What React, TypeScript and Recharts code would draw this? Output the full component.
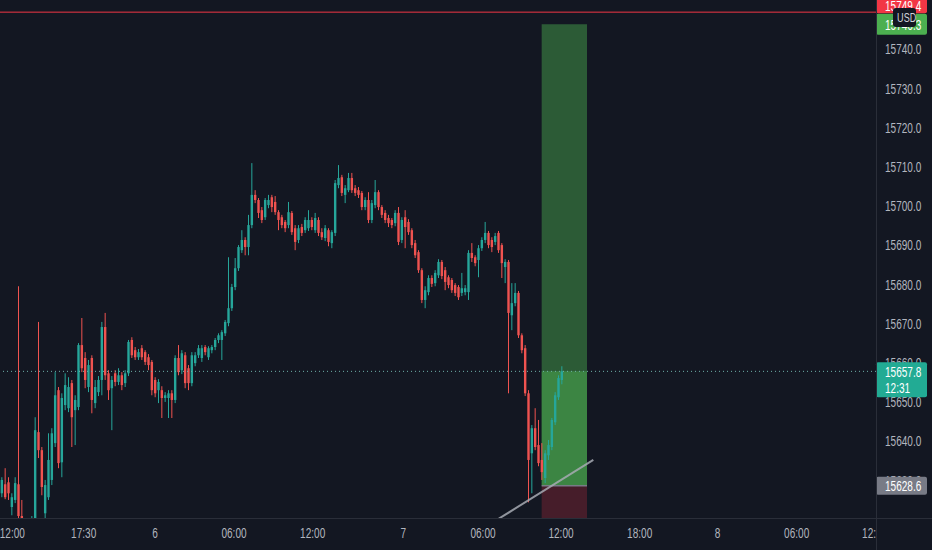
import React from 'react';
import { ComposedChart, Bar, XAxis, YAxis, ReferenceLine, ReferenceArea } from 'recharts';

const W = 932;
const H = 550;
const AXIS_W = 56;
const AXIS_H = 32;
const PLOT_W = W - AXIS_W;

const BG = '#131722';
const UP = '#26a69a';
const DOWN = '#ef5350';
const TEXT = '#b2b5be';
const BORDER = '#2a2e39';
const FONT = '"Liberation Sans", Arial, sans-serif';

// 15 minute bars, oldest first
const opens = [
  15626.7, 15629.0, 15629.5, 15623.2, 15625.0, 15629.0, 15620.9, 15617.8, 15616.0, 15617.3,
  15618.6, 15642.3, 15637.7, 15621.6, 15625.7, 15630.1, 15639.5, 15653.0, 15634.6, 15649.2,
  15648.4, 15654.8, 15647.9, 15648.7, 15664.5, 15661.2, 15653.8, 15661.2, 15649.7, 15652.5,
  15655.6, 15669.1, 15657.3, 15653.5, 15657.3, 15655.1, 15656.8, 15654.8, 15657.3, 15665.8,
  15663.2, 15661.4, 15663.7, 15662.7, 15661.4, 15660.2, 15655.6, 15653.0, 15653.0, 15651.0,
  15651.0, 15652.2, 15650.5, 15661.2, 15658.1, 15661.9, 15658.6, 15654.8, 15659.9, 15661.9,
  15661.2, 15664.0, 15661.4, 15663.2, 15664.0, 15665.8, 15665.8, 15667.5, 15670.1, 15673.9,
  15679.3, 15684.1, 15688.7, 15691.3, 15689.5, 15695.1, 15702.8, 15701.5, 15698.9, 15697.1,
  15700.2, 15702.2, 15701.0, 15698.4, 15697.1, 15695.9, 15695.1, 15698.2, 15694.3, 15691.3,
  15694.6, 15693.8, 15694.3, 15696.4, 15693.8, 15696.4, 15693.3, 15691.8, 15693.8, 15690.5,
  15693.1, 15705.3, 15707.3, 15702.8, 15704.0, 15707.1, 15704.5, 15704.0, 15703.3, 15699.7,
  15701.5, 15696.4, 15700.2, 15703.5, 15699.7, 15698.2, 15696.9, 15696.4, 15695.6, 15698.2,
  15691.3, 15697.1, 15695.9, 15693.8, 15690.5, 15688.2, 15683.6, 15676.0, 15678.0, 15681.6,
  15680.3, 15682.3, 15685.7, 15683.6, 15681.8, 15681.1, 15679.8, 15679.3, 15677.8, 15678.0,
  15678.0, 15688.0, 15686.9, 15686.2, 15689.2, 15691.3, 15693.1, 15691.3, 15690.8, 15693.1,
  15690.0, 15684.4, 15685.7, 15672.1, 15675.2, 15677.8, 15667.0, 15663.7, 15652.2, 15636.9,
  15643.3, 15639.0, 15635.2, 15630.6, 15636.4, 15638.5, 15644.8, 15651.2, 15655.6,
];

const highs = [
  15630.8, 15633.1, 15630.8, 15626.7, 15630.8, 15679.5, 15625.0, 15619.8, 15619.3, 15620.9,
  15646.1, 15670.4, 15638.5, 15630.1, 15642.0, 15643.3, 15657.6, 15653.8, 15652.2, 15657.3,
  15656.3, 15655.6, 15651.7, 15665.0, 15671.4, 15662.7, 15660.7, 15661.9, 15655.6, 15656.6,
  15670.4, 15672.7, 15658.1, 15656.6, 15658.1, 15658.6, 15657.6, 15658.1, 15665.8, 15666.5,
  15664.0, 15663.5, 15664.5, 15663.2, 15662.2, 15660.7, 15656.3, 15655.8, 15654.0, 15652.5,
  15653.0, 15653.0, 15661.9, 15664.5, 15663.2, 15662.7, 15659.4, 15662.7, 15662.7, 15664.5,
  15664.5, 15664.5, 15664.2, 15664.5, 15666.3, 15667.5, 15668.3, 15670.9, 15686.9, 15680.1,
  15686.7, 15690.0, 15693.8, 15692.0, 15697.7, 15710.9, 15704.0, 15702.0, 15699.7, 15702.0,
  15702.8, 15702.8, 15702.5, 15698.9, 15697.7, 15696.4, 15701.0, 15698.7, 15695.1, 15695.1,
  15695.4, 15697.1, 15698.9, 15697.1, 15698.2, 15697.1, 15694.3, 15695.1, 15694.3, 15693.8,
  15706.6, 15710.4, 15707.9, 15705.3, 15708.4, 15708.4, 15705.3, 15704.8, 15703.8, 15702.2,
  15703.5, 15701.5, 15706.6, 15704.0, 15700.2, 15698.9, 15697.7, 15696.9, 15698.9, 15699.7,
  15697.1, 15698.9, 15696.6, 15694.3, 15691.3, 15688.7, 15684.1, 15679.5, 15682.3, 15682.3,
  15683.6, 15686.4, 15686.2, 15684.4, 15682.3, 15681.6, 15680.3, 15679.8, 15682.9, 15679.8,
  15688.7, 15690.5, 15687.4, 15690.0, 15692.0, 15695.9, 15693.6, 15692.0, 15693.1, 15693.6,
  15690.5, 15686.4, 15686.2, 15680.3, 15680.3, 15678.3, 15667.5, 15664.5, 15653.0, 15644.1,
  15648.4, 15645.4, 15639.5, 15637.7, 15640.3, 15645.9, 15652.5, 15656.8, 15659.1,
];

const lows = [
  15625.7, 15625.2, 15625.0, 15621.1, 15624.2, 15619.3, 15616.0, 15613.5, 15613.5, 15616.0,
  15617.8, 15635.7, 15626.2, 15620.4, 15625.0, 15628.8, 15638.5, 15633.1, 15630.8, 15647.9,
  15647.4, 15638.5, 15639.0, 15647.9, 15657.6, 15653.5, 15652.5, 15647.1, 15648.4, 15651.5,
  15651.7, 15655.6, 15650.5, 15642.8, 15654.0, 15654.3, 15653.0, 15653.8, 15656.6, 15661.2,
  15660.7, 15660.7, 15660.7, 15659.4, 15658.1, 15651.7, 15651.2, 15649.7, 15645.9, 15650.0,
  15645.9, 15645.9, 15649.7, 15656.8, 15657.1, 15653.5, 15653.0, 15654.0, 15659.1, 15661.2,
  15660.2, 15661.9, 15660.7, 15662.4, 15663.2, 15665.0, 15660.7, 15666.8, 15669.3, 15673.2,
  15678.5, 15683.4, 15688.0, 15687.4, 15687.4, 15694.3, 15700.7, 15696.9, 15695.6, 15696.4,
  15699.4, 15698.4, 15697.7, 15693.8, 15694.3, 15693.3, 15694.3, 15692.6, 15688.7, 15690.5,
  15692.3, 15693.1, 15693.6, 15693.8, 15693.1, 15692.3, 15691.3, 15691.0, 15689.7, 15689.2,
  15692.3, 15704.5, 15702.5, 15700.7, 15703.5, 15703.3, 15702.5, 15702.0, 15698.9, 15698.9,
  15695.6, 15695.6, 15699.4, 15698.9, 15696.9, 15695.6, 15694.6, 15694.3, 15694.8, 15690.0,
  15690.5, 15689.2, 15692.6, 15689.2, 15686.7, 15682.9, 15675.2, 15673.9, 15677.2, 15679.3,
  15679.5, 15681.6, 15681.3, 15678.5, 15679.0, 15677.8, 15677.0, 15676.0, 15677.0, 15677.2,
  15676.0, 15685.7, 15684.6, 15681.8, 15688.5, 15690.5, 15689.2, 15688.2, 15690.0, 15688.0,
  15681.6, 15680.3, 15652.2, 15668.3, 15674.4, 15666.3, 15662.4, 15651.5, 15624.4, 15626.7,
  15637.7, 15633.6, 15630.1, 15629.3, 15635.2, 15637.7, 15644.1, 15650.5, 15654.5,
];

const closes = [
  15630.1, 15625.7, 15626.7, 15625.7, 15629.3, 15620.9, 15617.8, 15616.0, 15618.3, 15619.3,
  15642.8, 15637.7, 15628.3, 15628.8, 15635.2, 15642.0, 15651.7, 15634.4, 15651.0, 15654.3,
  15653.8, 15646.1, 15650.5, 15664.5, 15658.6, 15655.6, 15659.4, 15650.5, 15653.8, 15655.6,
  15669.1, 15656.8, 15653.0, 15655.6, 15655.1, 15656.8, 15654.3, 15657.3, 15665.3, 15661.9,
  15661.4, 15662.7, 15661.4, 15660.2, 15659.4, 15653.0, 15652.2, 15655.1, 15651.0, 15651.7,
  15652.2, 15650.5, 15661.2, 15657.6, 15662.4, 15654.8, 15654.8, 15661.9, 15661.9, 15663.7,
  15663.7, 15662.7, 15663.7, 15664.0, 15665.8, 15667.0, 15667.8, 15670.4, 15673.9, 15679.3,
  15684.1, 15689.5, 15691.3, 15689.5, 15695.1, 15702.8, 15701.5, 15698.2, 15696.4, 15701.5,
  15701.5, 15699.7, 15698.4, 15696.4, 15695.1, 15694.3, 15698.4, 15693.3, 15690.8, 15694.3,
  15693.1, 15696.4, 15696.4, 15694.6, 15696.9, 15693.1, 15692.0, 15694.3, 15690.8, 15693.3,
  15705.8, 15707.1, 15703.3, 15704.5, 15707.1, 15704.0, 15703.3, 15702.8, 15699.7, 15701.5,
  15696.4, 15700.7, 15703.5, 15699.7, 15697.7, 15696.4, 15695.6, 15695.1, 15698.2, 15690.8,
  15696.4, 15694.6, 15693.3, 15690.0, 15687.4, 15683.6, 15676.0, 15678.5, 15681.6, 15680.1,
  15682.9, 15685.7, 15682.1, 15680.6, 15679.8, 15678.5, 15677.8, 15676.7, 15679.0, 15679.0,
  15688.0, 15686.7, 15685.4, 15689.2, 15691.3, 15693.1, 15690.0, 15689.5, 15692.3, 15688.7,
  15685.4, 15685.7, 15672.7, 15675.2, 15677.8, 15667.0, 15663.2, 15652.2, 15635.2, 15643.3,
  15638.5, 15634.4, 15632.1, 15636.9, 15639.0, 15645.4, 15651.7, 15656.1, 15657.8,
];

// time scale: bar index of each date / time label
const timeTicks = [3.1, 24.5, 45.9, 69.6, 93.2, 120.4, 144.3, 167.7, 191.3, 214.7, 238.4, 261.8];
const timeLabels = ['12:00', '17:30', '6', '06:00', '12:00', '7', '06:00', '12:00', '18:00', '8', '06:00', '12:00'];
const priceTicks = [15630, 15640, 15650, 15660, 15670, 15680, 15690, 15700, 15710, 15720, 15730, 15740];

const lastPrice = 15657.8;
const countdown = '12:31';
const alertPrice = 15749.4;

// long position drawing
const entryPrice = 15628.6;
const targetPrice = 15746.3;
const stopPrice = 15612.0;
const toolStart = 161.9;
const toolEnd = 175.5;

// trend line drawing
const trendStart = { x: 146.9, y: 15619.1 };
const trendEnd = { x: 177.4, y: 15635.2 };

const xDomain = [-0.6, 262.2];
const yDomain = [15620.4, 15752.5];

const candles = opens.map((open, i) => ({
  idx: i,
  open,
  high: highs[i],
  low: lows[i],
  close: closes[i],
  range: [lows[i], highs[i]],
}));

const fmt = (v: number) => v.toFixed(1);

const Candle = (props: any) => {
  const { x, y, width, height, payload } = props;
  if (!payload) return null;
  const { open, close, high, low } = payload;
  const top = Math.min(y, y + height);
  const span = Math.abs(height);
  const k = high === low ? 0 : span / (high - low);
  const yOpen = top + (high - open) * k;
  const yClose = top + (high - close) * k;
  const color = close >= open ? UP : DOWN;
  const cx = x + width / 2;
  const bodyW = 2.4;
  return (
    <g>
      <line x1={cx} x2={cx} y1={top} y2={top + span} stroke={color} strokeWidth={1} />
      <rect
        x={cx - bodyW / 2}
        y={Math.min(yOpen, yClose)}
        width={bodyW}
        height={Math.max(Math.abs(yOpen - yClose), 1)}
        fill={color}
      />
    </g>
  );
};

// narrow text, like the squeezed screenshot
const Narrow = ({ x, y, children, fill = TEXT, anchor = 'start' }: any) => (
  <text
    transform={`translate(${x},${y}) scale(0.67,1)`}
    fontSize={15}
    fontFamily={FONT}
    fill={fill}
    textAnchor={anchor}
  >
    {children}
  </text>
);

const TimeTick = (props: any) => {
  const { x, y, payload, index } = props;
  const label = timeLabels[timeTicks.indexOf(payload.value)];
  const id = `tclip${index}`;
  return (
    <g>
      <defs>
        <clipPath id={id}>
          <rect x={0} y={0} width={PLOT_W} height={H} />
        </clipPath>
      </defs>
      <g clipPath={`url(#${id})`}>
        <Narrow x={x} y={y + 12} anchor="middle">
          {label}
        </Narrow>
      </g>
    </g>
  );
};

const AxisPrice = (props: any) => {
  const { viewBox, value } = props;
  if (!viewBox) return null;
  return (
    <Narrow x={PLOT_W + 9} y={viewBox.y + 5.3}>
      {fmt(value)}
    </Narrow>
  );
};

const PriceTag = (props: any) => {
  const { viewBox, lines, bg, fg = '#ffffff', dy = 0, above = 10, below = 10 } = props;
  if (!viewBox) return null;
  const cy = viewBox.y + dy;
  return (
    <g>
      <rect x={PLOT_W} y={cy - above} width={51} height={above + below} rx={2} fill={bg} />
      {lines.map((t: string, k: number) => (
        <Narrow key={k} x={PLOT_W + 9} y={cy + 5.3 + k * 16} fill={fg}>
          {t}
        </Narrow>
      ))}
    </g>
  );
};

const App = () => {
  return (
    <div style={{ position: 'absolute', left: 0, top: 0, width: W, height: H, background: BG, overflow: 'hidden' }}>
      <ComposedChart width={W} height={H} data={candles} margin={{ top: 0, right: 0, bottom: 0, left: 0 }}>
        <XAxis
          type="number"
          dataKey="idx"
          domain={xDomain}
          allowDataOverflow
          ticks={timeTicks}
          interval={0}
          height={AXIS_H}
          axisLine={false}
          tickLine={false}
          tick={(p: any) => <TimeTick {...p} />}
        />
        <YAxis
          orientation="right"
          width={AXIS_W}
          domain={yDomain}
          allowDataOverflow
          axisLine={false}
          tickLine={false}
          tick={false}
        />
        <Bar dataKey="range" barSize={3} shape={<Candle />} isAnimationActive={false} />
        <ReferenceArea
          x1={toolStart}
          x2={toolEnd}
          y1={entryPrice}
          y2={targetPrice}
          fill="#4caf50"
          fillOpacity={0.45}
          ifOverflow="hidden"
        />
        <ReferenceArea
          x1={toolStart}
          x2={toolEnd}
          y1={entryPrice}
          y2={lastPrice}
          fill="#4caf50"
          fillOpacity={0.5}
          ifOverflow="hidden"
        />
        <ReferenceArea
          x1={toolStart}
          x2={toolEnd}
          y1={stopPrice}
          y2={entryPrice}
          fill="#f23645"
          fillOpacity={0.23}
          ifOverflow="hidden"
        />
        <ReferenceLine
          segment={[
            { x: toolStart, y: entryPrice },
            { x: toolEnd, y: entryPrice },
          ]}
          stroke="#787b86"
          strokeWidth={1.5}
        />
        <ReferenceLine
          segment={[trendStart, trendEnd]}
          stroke="#a7aab3"
          strokeWidth={2}
          strokeOpacity={0.85}
          ifOverflow="hidden"
        />
        {priceTicks.map((p) => (
          <ReferenceLine key={p} y={p} stroke="none" label={<AxisPrice value={p} />} />
        ))}
        <ReferenceLine
          y={lastPrice}
          stroke="#6fb3ab"
          strokeDasharray="1 3"
          label={<PriceTag lines={[fmt(lastPrice), countdown]} bg="#22ab94" above={9} below={26} />}
        />
        <ReferenceLine
          y={entryPrice}
          stroke="none"
          label={<PriceTag lines={[fmt(entryPrice)]} bg="#787b86" above={9} below={9} />}
        />
        <ReferenceLine
          y={targetPrice}
          stroke="none"
          label={<PriceTag lines={[fmt(targetPrice)]} bg="#4caf50" above={10.5} below={10.5} />}
        />
        <ReferenceLine
          y={alertPrice}
          stroke="#f23645"
          label={<PriceTag lines={[fmt(alertPrice)]} bg="#f23645" dy={-6} above={14} below={7} />}
        />
      </ComposedChart>
      <div style={{ position: 'absolute', left: PLOT_W, top: 0, width: 1, height: H, background: BORDER }} />
      <div style={{ position: 'absolute', left: 0, top: H - AXIS_H, width: W, height: 1, background: BORDER }} />
      <div
        style={{
          position: 'absolute',
          left: 893,
          top: 8,
          width: 23,
          height: 19,
          background: BG,
          borderRadius: 3,
          color: '#d1d4dc',
          fontFamily: FONT,
          fontSize: 13,
          lineHeight: '19px',
          textAlign: 'center',
        }}
      >
        <span style={{ display: 'inline-block', transform: 'scaleX(0.7)' }}>USD</span>
      </div>
    </div>
  );
};

export default App;
